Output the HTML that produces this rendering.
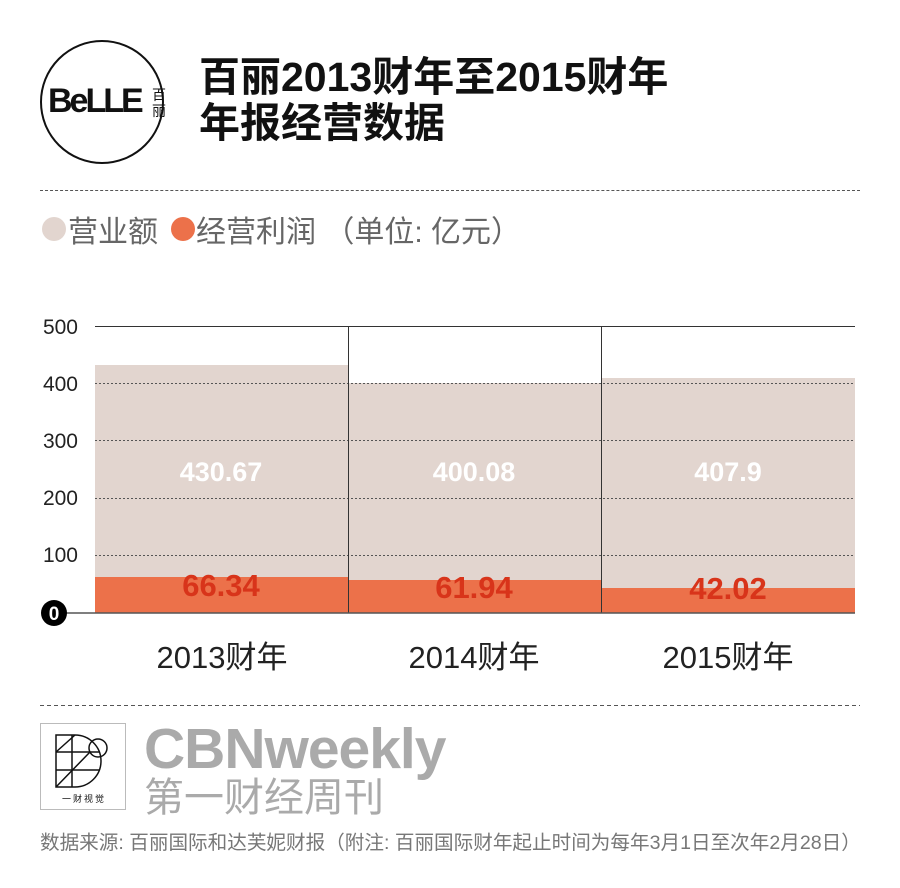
<!DOCTYPE html>
<html><head><meta charset="utf-8"><style>
body{margin:0;width:900px;height:888px;background:#fff;overflow:hidden;font-family:"Liberation Sans","Noto Sans CJK SC",sans-serif;position:relative}
.a{position:absolute;white-space:nowrap}
</style></head><body>
<div class="a" style="left:40px;top:40px;width:120px;height:120px;border:2px solid #111;border-radius:50%"></div>
<div class="a" style="left:48px;top:82px;font-weight:900;font-size:34px;letter-spacing:-3px;color:#111;font-family:'Liberation Sans',sans-serif">BeLLE</div>
<div class="a" style="left:152px;top:87px;font-size:14px;line-height:16px;color:#111;font-family:'Noto Sans CJK SC',sans-serif;width:15px">百<br>丽</div>
<div class="a" style="left:199px;top:54px;font-size:41px;line-height:46px;font-weight:bold;color:#111;font-family:'Liberation Sans','Noto Sans CJK SC',sans-serif">百丽2013财年至2015财年<br>年报经营数据</div>
<div class="a" style="left:40px;top:190px;width:820px;border-top:1px dashed #555"></div>
<div class="a" style="left:42px;top:217px;width:24px;height:24px;border-radius:50%;background:#e2d5cf"></div>
<div class="a" style="left:171px;top:217px;width:24px;height:24px;border-radius:50%;background:#ec714a"></div>
<div class="a" style="left:68px;top:207px;font-size:30px;color:#666;font-family:'Liberation Sans','Noto Sans CJK SC',sans-serif">营业额</div>
<div class="a" style="left:196px;top:207px;font-size:30px;color:#666;font-family:'Liberation Sans','Noto Sans CJK SC',sans-serif">经营利润 （单位: 亿元）</div>
<svg class="a" style="left:0;top:0" width="900" height="888">
<g fill="#e2d5cf"><rect x="95" y="365" width="253" height="248"/><rect x="349" y="383" width="252" height="230"/><rect x="601" y="378" width="254" height="235"/></g>
<g fill="#ec714a"><rect x="95" y="577" width="253" height="36"/><rect x="349" y="580" width="252" height="33"/><rect x="601" y="588" width="254" height="25"/></g>
<line x1="95" y1="326.5" x2="855" y2="326.5" stroke="#333" stroke-width="1"/>
<g stroke="#555" stroke-dasharray="2,2" stroke-width="1"><line x1="95" y1="383.5" x2="855" y2="383.5"/><line x1="95" y1="440.5" x2="855" y2="440.5"/><line x1="95" y1="498.5" x2="855" y2="498.5"/><line x1="95" y1="555.5" x2="855" y2="555.5"/></g>
<line x1="348.5" y1="326" x2="348.5" y2="613" stroke="#333"/><line x1="601.5" y1="326" x2="601.5" y2="613" stroke="#333"/>
<line x1="55" y1="613" x2="855" y2="613" stroke="#555" stroke-width="1.5"/>
<circle cx="54" cy="613" r="13" fill="#000"/>
<text x="54" y="620" text-anchor="middle" fill="#fff" font-size="19" font-weight="bold" font-family="Liberation Sans">0</text>
<g font-family="Liberation Sans" font-size="21" fill="#222" text-anchor="end"><text x="78" y="334">500</text><text x="78" y="391">400</text><text x="78" y="448">300</text><text x="78" y="505">200</text><text x="78" y="562">100</text></g>
<g font-family="Liberation Sans" font-size="27" font-weight="900" fill="#fff" text-anchor="middle"><text x="221" y="481">430.67</text><text x="474" y="481">400.08</text><text x="728" y="481">407.9</text></g>
<g font-family="Liberation Sans" font-size="31" font-weight="900" fill="#d8341a" text-anchor="middle"><text x="221" y="596">66.34</text><text x="474" y="598">61.94</text><text x="728" y="599">42.02</text></g>
<g font-family="Liberation Sans,Noto Sans CJK SC" font-size="31" fill="#222" text-anchor="middle"><text x="222" y="668">2013财年</text><text x="474" y="668">2014财年</text><text x="728" y="668">2015财年</text></g>
<line x1="40" y1="705.5" x2="860" y2="705.5" stroke="#555" stroke-dasharray="4,3"/>
<rect x="40.5" y="723.5" width="85" height="86" fill="none" stroke="#bbb"/>
<g stroke="#111" stroke-width="1.5" fill="none"><path d="M56 735 H75 A25 25 0 0 1 75 787 H56 Z"/><line x1="56" y1="752" x2="100" y2="752"/><line x1="56" y1="770" x2="100" y2="770"/><line x1="72" y1="735" x2="72" y2="787"/><line x1="56" y1="752" x2="75" y2="735"/><line x1="56" y1="787" x2="90" y2="752"/><circle cx="98" cy="748" r="9"/></g>
<text x="83" y="802" text-anchor="middle" font-size="9" fill="#111" font-family="Noto Sans CJK SC">一 财 视 觉</text>
</svg>
<div class="a" style="left:144px;top:719px;font-size:57px;line-height:60px;font-weight:bold;color:#aaa;letter-spacing:-1px">CBNweekly</div>
<div class="a" style="left:144px;top:772px;font-size:40px;line-height:44px;color:#aaa;font-family:'Noto Sans CJK SC',sans-serif">第一财经周刊</div>
<div class="a" style="left:40px;top:826px;font-size:19.6px;color:#777;font-family:'Liberation Sans','Noto Sans CJK SC',sans-serif">数据来源: 百丽国际和达芙妮财报（附注: 百丽国际财年起止时间为每年3月1日至次年2月28日）</div>
</body></html>
